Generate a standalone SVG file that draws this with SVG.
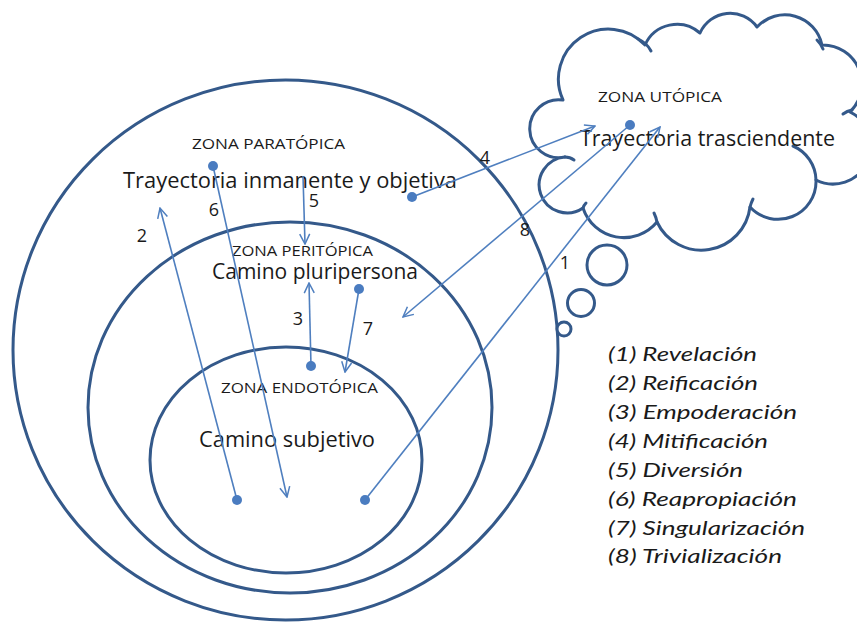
<svg xmlns="http://www.w3.org/2000/svg" width="857" height="622" viewBox="0 0 857 622">
<defs>
<style>
.zone{fill:none;stroke:#34598a;stroke-width:3}
.cloud{fill:#fff;stroke:#34598a;stroke-width:3;stroke-linejoin:round}
.spur{fill:none;stroke:#34598a;stroke-width:3;stroke-linecap:round}
.bub{fill:#fff;stroke:#34598a;stroke-width:3}
.conn{fill:none;stroke:#4f7fbf;stroke-width:1.6}
.dot{fill:#4a7cc0}
.lbl{font-family:"Open Sans","Liberation Sans",sans-serif;fill:#1a1a1a}
.zl{font-size:15px}
.main{font-size:21px}
.num{font-size:18px;text-anchor:middle}
.leg{font-family:Lato,"Liberation Sans",sans-serif;font-style:italic;font-size:20px;fill:#1a1a1a}
</style>
<marker id="arr" viewBox="0 0 12 12" refX="11" refY="6" markerWidth="12" markerHeight="12" markerUnits="userSpaceOnUse" orient="auto">
<path d="M1,1 L11,6 L1,11" fill="none" stroke="#4f7fbf" stroke-width="1.5"/>
</marker>
</defs>

<g id="zona-paratopica">
<ellipse class="zone" cx="285.5" cy="350" rx="272.5" ry="270"/>
<text class="lbl zl" x="192" y="149" textLength="153" lengthAdjust="spacingAndGlyphs">ZONA PARATÓPICA</text>
<text class="lbl main" x="123" y="188" textLength="334" lengthAdjust="spacingAndGlyphs">Trayectoria inmanente y objetiva</text>
</g>

<g id="zona-peritopica">
<ellipse class="zone" cx="290" cy="407.5" rx="202" ry="185.5"/>
<text class="lbl zl" x="232" y="256" textLength="141" lengthAdjust="spacingAndGlyphs">ZONA PERITÓPICA</text>
<text class="lbl main" x="212" y="279" textLength="206" lengthAdjust="spacingAndGlyphs">Camino pluripersona</text>
</g>

<g id="zona-endotopica">
<ellipse class="zone" cx="286" cy="460" rx="136" ry="113"/>
<text class="lbl zl" x="221" y="393" textLength="157" lengthAdjust="spacingAndGlyphs">ZONA ENDOTÓPICA</text>
<text class="lbl main" x="199" y="447" textLength="176" lengthAdjust="spacingAndGlyphs">Camino subjetivo</text>
</g>

<g id="zona-utopica">
<path class="cloud" d="M563,100 A50,50 0 0 1 645,45 A35,35 0 0 1 700,33 A33,33 0 0 1 757,27 A38,38 0 0 1 822,45 A39,39 0 0 1 850,112 A38,38 0 0 1 816,180 A38,38 0 0 1 750,207 A49,49 0 0 1 657,222 A43,43 0 0 1 583,208 A28,28 0 1 1 565,157 A29,29 0 1 1 563,100 Z"/>
<path class="spur" d="M638,39 Q647,43 651,51"/>
<path class="spur" d="M817,40 Q821,44 823,49"/>
<path class="spur" d="M852,110 Q847,111 843,114"/>
<path class="spur" d="M793,146 A38,38 0 0 1 816,180"/>
<path class="spur" d="M750,207 Q751,203 753,199"/>
<path class="spur" d="M657,222 Q656,217 654,213"/>
<path class="spur" d="M583,208 Q584,205 586,203"/>
<path class="spur" d="M565,157 Q570,157 574,160"/>
<circle class="bub" cx="607" cy="265" r="20"/>
<circle class="bub" cx="581" cy="303" r="13.5"/>
<circle class="bub" cx="564" cy="329" r="7"/>
<text class="lbl zl" x="598" y="102" textLength="124" lengthAdjust="spacingAndGlyphs">ZONA UTÓPICA</text>
<text class="lbl main" x="580" y="146" textLength="255" lengthAdjust="spacingAndGlyphs">Trayectoria trasciendente</text>
</g>

<g id="connectors">
<line class="conn" x1="365" y1="500" x2="660" y2="127" marker-end="url(#arr)"/>
<circle class="dot" cx="365" cy="500" r="5"/>
<line class="conn" x1="237" y1="500" x2="160" y2="208" marker-end="url(#arr)"/>
<circle class="dot" cx="237" cy="500" r="5"/>
<line class="conn" x1="311" y1="366" x2="309" y2="283" marker-end="url(#arr)"/>
<circle class="dot" cx="311" cy="366" r="5"/>
<line class="conn" x1="412" y1="197" x2="595" y2="126" marker-end="url(#arr)"/>
<circle class="dot" cx="412" cy="197" r="5"/>
<line class="conn" x1="303" y1="176" x2="305" y2="244" marker-end="url(#arr)"/>
<line class="conn" x1="213" y1="166" x2="287" y2="497" marker-end="url(#arr)"/>
<circle class="dot" cx="213" cy="166" r="5"/>
<line class="conn" x1="359" y1="289" x2="345" y2="372" marker-end="url(#arr)"/>
<circle class="dot" cx="359" cy="289" r="5"/>
<line class="conn" x1="630" y1="125" x2="403" y2="317" marker-end="url(#arr)"/>
<circle class="dot" cx="630" cy="125" r="5"/>
</g>

<g id="numbers">
<text class="lbl num" x="565" y="269">1</text>
<text class="lbl num" x="142" y="242">2</text>
<text class="lbl num" x="298" y="325">3</text>
<text class="lbl num" x="485" y="164">4</text>
<text class="lbl num" x="314" y="207">5</text>
<text class="lbl num" x="214" y="216">6</text>
<text class="lbl num" x="368" y="335">7</text>
<text class="lbl num" x="525" y="236">8</text>
</g>

<g id="legend">
<text class="leg" x="608" y="361" textLength="149" lengthAdjust="spacingAndGlyphs">(1) Revelación</text>
<text class="leg" x="608" y="390" textLength="150" lengthAdjust="spacingAndGlyphs">(2) Reificación</text>
<text class="leg" x="608" y="419" textLength="189" lengthAdjust="spacingAndGlyphs">(3) Empoderación</text>
<text class="leg" x="608" y="448" textLength="160" lengthAdjust="spacingAndGlyphs">(4) Mitificación</text>
<text class="leg" x="608" y="477" textLength="135" lengthAdjust="spacingAndGlyphs">(5) Diversión</text>
<text class="leg" x="608" y="506" textLength="189" lengthAdjust="spacingAndGlyphs">(6) Reapropiación</text>
<text class="leg" x="608" y="535" textLength="197" lengthAdjust="spacingAndGlyphs">(7) Singularización</text>
<text class="leg" x="608" y="563" textLength="174" lengthAdjust="spacingAndGlyphs">(8) Trivialización</text>
</g>
</svg>
